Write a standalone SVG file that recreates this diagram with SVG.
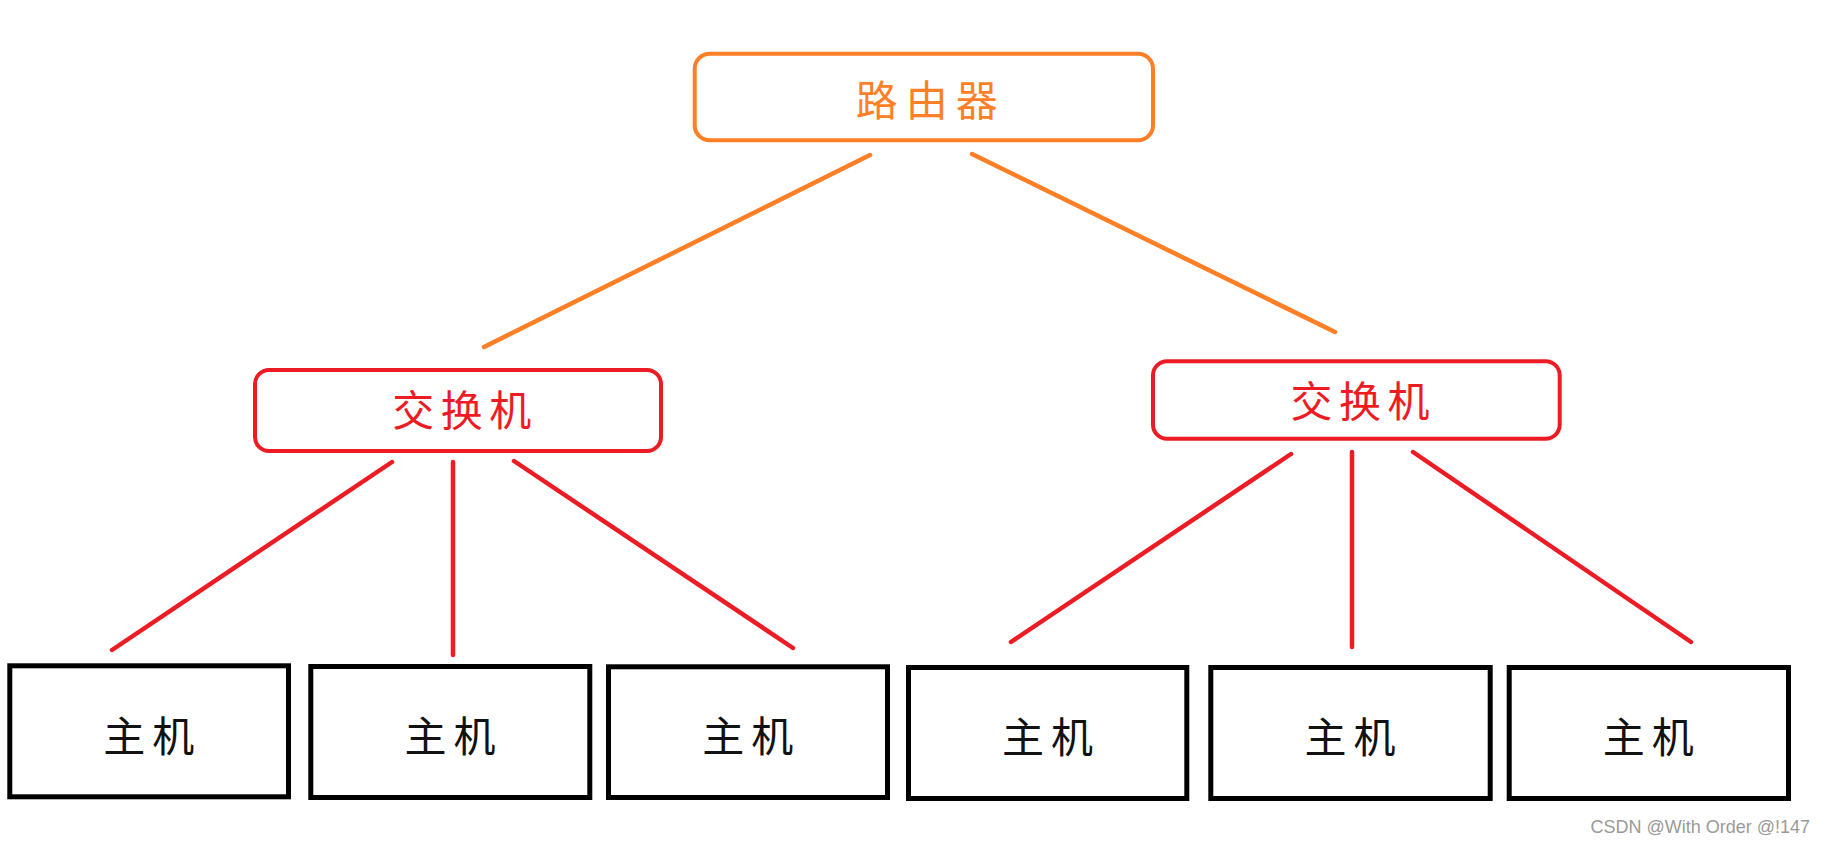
<svg xmlns="http://www.w3.org/2000/svg" width="1825" height="843" viewBox="0 0 1825 843">
<style>
.bg{fill:#ffffff}
.router{fill:#ffffff;stroke:#FF7F27;stroke-width:4}
.switch{fill:#ffffff;stroke:#ED1C24;stroke-width:4}
.host{fill:#ffffff;stroke:#000000;stroke-width:5}
.lbl{font-family:"Noto Sans CJK SC","Noto Sans CJK JP",sans-serif;font-size:42px;text-anchor:middle;dominant-baseline:central}
.t-or{fill:#FF7F27;letter-spacing:8px}
.t-rd{fill:#ED1C24;letter-spacing:6.5px}
.t-bk{fill:#111111;letter-spacing:7px}
.c-or{stroke:#FF7F27;stroke-width:4.5;stroke-linecap:round;fill:none}
.c-rd{stroke:#ED1C24;stroke-width:4.5;stroke-linecap:round;fill:none}
.wm{font-family:"Liberation Sans",Arial,sans-serif;font-size:18px;fill:#9a9a9a;text-anchor:end}
</style>
<rect class="bg" x="0" y="0" width="1825" height="843"/>
<g id="connectors">
<line class="c-or" x1="870" y1="155" x2="484" y2="347"/>
<line class="c-or" x1="972" y1="154" x2="1335" y2="332"/>
<line class="c-rd" x1="392" y1="462" x2="112" y2="650"/>
<line class="c-rd" x1="453" y1="462" x2="453" y2="655"/>
<line class="c-rd" x1="514" y1="461" x2="793" y2="648"/>
<line class="c-rd" x1="1291" y1="454" x2="1011" y2="642"/>
<line class="c-rd" x1="1352" y1="452" x2="1352" y2="647"/>
<line class="c-rd" x1="1413" y1="452" x2="1691" y2="642"/>
</g>
<g id="router">
<rect class="router" x="694.7" y="53.7" width="458.3" height="86.5" rx="15"/>
<text class="lbl t-or" x="930.7" y="97">路由器</text>
</g>
<g id="switch-left">
<rect class="switch" x="255" y="370" width="406" height="81" rx="14"/>
<text class="lbl t-rd" x="465" y="407.5">交换机</text>
</g>
<g id="switch-right">
<rect class="switch" x="1153" y="361.3" width="406.7" height="77.4" rx="14"/>
<text class="lbl t-rd" x="1363.3" y="398">交换机</text>
</g>
<g id="host-1">
<rect class="host" x="9.8" y="665.8" width="278.7" height="131"/>
<text class="lbl t-bk" x="152.2" y="733">主机</text>
</g>
<g id="host-2">
<rect class="host" x="310.8" y="666.5" width="279" height="131"/>
<text class="lbl t-bk" x="453.5" y="733">主机</text>
</g>
<g id="host-3">
<rect class="host" x="608.5" y="666.8" width="279" height="130.7"/>
<text class="lbl t-bk" x="751.2" y="733">主机</text>
</g>
<g id="host-4">
<rect class="host" x="908.5" y="667.5" width="278.3" height="131"/>
<text class="lbl t-bk" x="1051" y="734">主机</text>
</g>
<g id="host-5">
<rect class="host" x="1210.8" y="667.5" width="279.4" height="131"/>
<text class="lbl t-bk" x="1353.5" y="734">主机</text>
</g>
<g id="host-6">
<rect class="host" x="1509.2" y="667.5" width="279.3" height="131"/>
<text class="lbl t-bk" x="1651.8" y="734">主机</text>
</g>
<text class="wm" x="1810" y="833">CSDN @With Order @!147</text>
</svg>
